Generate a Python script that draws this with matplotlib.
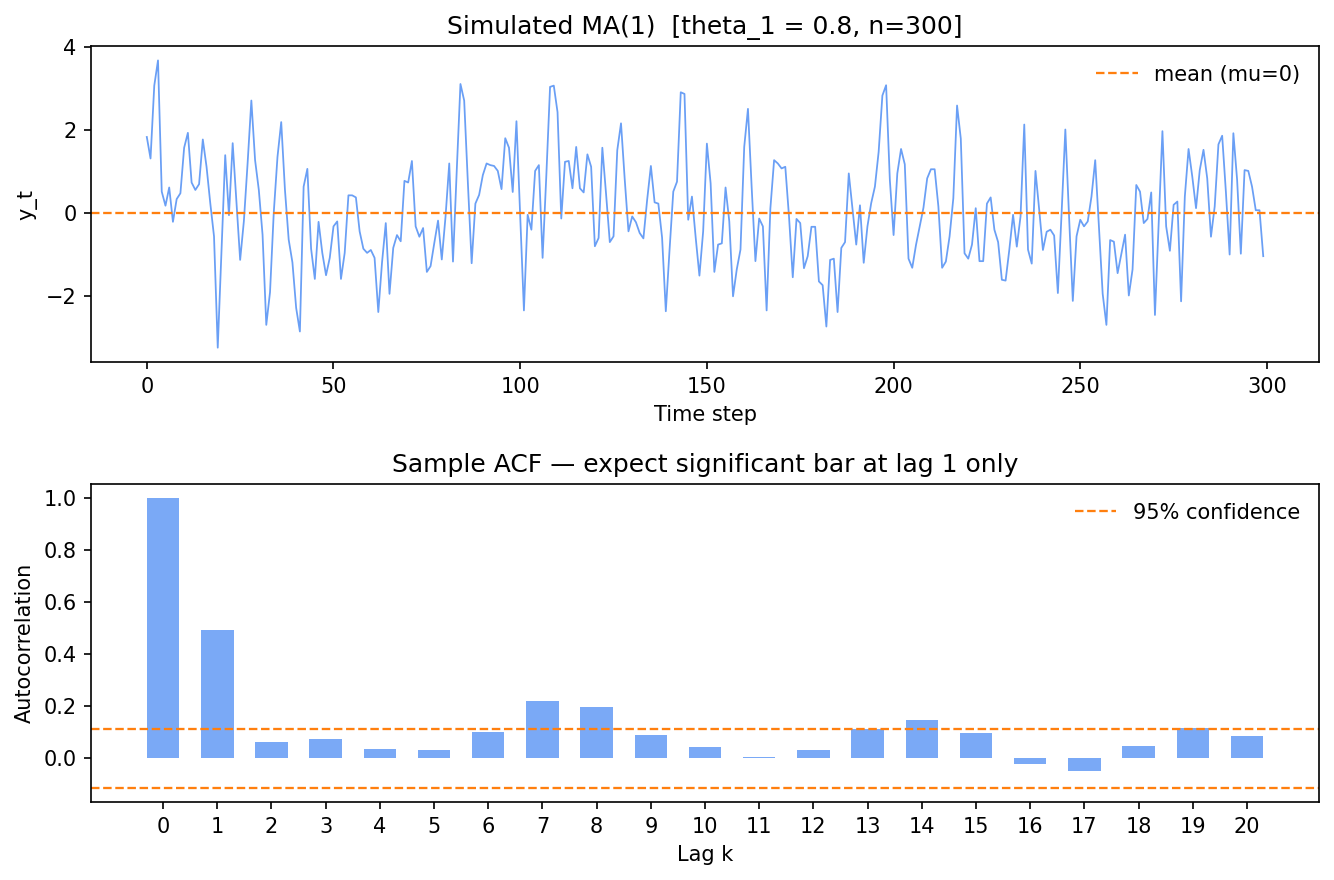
import matplotlib
matplotlib.use("Agg")
import matplotlib.pyplot as plt
from matplotlib.ticker import MultipleLocator
import numpy as np

# simulated MA(1) series
y_vals = [
    1.83, 1.31, 3.07, 3.68, 0.51, 0.17, 0.61, -0.22, 0.33, 0.47,
    1.57, 1.93, 0.73, 0.55, 0.69, 1.77, 1.11, 0.23, -0.57, -3.26,
    -0.93, 1.39, -0.06, 1.68, 0.27, -1.14, -0.2, 1.2, 2.71, 1.27,
    0.55, -0.53, -2.71, -1.92, 0.0, 1.35, 2.19, 0.55, -0.65, -1.2,
    -2.3, -2.87, 0.63, 1.06, -0.87, -1.6, -0.22, -0.97, -1.51, -1.09,
    -0.33, -0.21, -1.6, -0.97, 0.42, 0.42, 0.37, -0.45, -0.87, -0.97,
    -0.9, -1.09, -2.4, -1.2, -0.25, -1.96, -0.85, -0.54, -0.69, 0.77,
    0.73, 1.25, -0.33, -0.58, -0.37, -1.43, -1.29, -0.73, -0.19, -1.13,
    -0.1, 1.19, -1.18, 1.0, 3.11, 2.71, 0.7, -1.22, 0.22, 0.43,
    0.91, 1.19, 1.15, 1.13, 1.01, 0.57, 1.8, 1.57, 0.5, 2.21,
    -0.07, -2.36, -0.05, -0.41, 1.01, 1.15, -1.09, 0.9, 3.04, 3.07,
    2.43, -0.14, 1.23, 1.25, 0.59, 1.59, 0.59, 0.49, 1.41, 1.11,
    -0.81, -0.61, 1.57, 0.45, -0.71, -0.57, 1.51, 2.16, 0.8, -0.45,
    -0.09, -0.23, -0.49, -0.62, 0.31, 1.13, 0.25, 0.22, -0.6, -2.38,
    -0.9, 0.51, 0.75, 2.91, 2.87, -0.17, 0.39, -0.6, -1.52, -0.45,
    1.67, 0.71, -1.43, -0.77, -0.74, 0.61, -0.21, -2.02, -1.37, -0.89,
    1.59, 2.51, 0.6, -1.17, -0.14, -0.33, -2.36, 0.1, 1.27, 1.19,
    1.07, 1.11, -0.1, -1.56, -0.15, -0.25, -1.34, -1.05, -0.34, -0.34,
    -1.66, -1.75, -2.75, -1.14, -1.11, -2.4, -0.85, -0.71, 0.95, 0.1,
    -0.77, 0.18, -1.21, -0.33, 0.23, 0.63, 1.47, 2.83, 3.08, 0.79,
    -0.54, 0.95, 1.54, 1.17, -1.11, -1.33, -0.78, -0.33, 0.12, 0.83,
    1.05, 1.05, 0.15, -1.33, -1.18, -0.57, 0.35, 2.59, 1.79, -0.98,
    -1.11, -0.77, 0.11, -1.17, -1.17, 0.22, 0.37, -0.41, -0.71, -1.62,
    -1.64, -0.89, -0.05, -0.82, -0.09, 2.13, -0.89, -1.23, 1.01, 0.07,
    -0.9, -0.46, -0.41, -0.55, -1.94, 0.0, 2.01, -0.1, -2.13, -0.57,
    -0.17, -0.33, -0.21, 0.39, 1.27, -0.35, -1.96, -2.71, -0.66, -0.7,
    -1.46, -1.0, -0.53, -2.0, -1.37, 0.67, 0.51, -0.25, -0.15, 0.49,
    -2.47, -0.25, 1.97, -0.33, -0.92, 0.19, 0.27, -2.14, 0.39, 1.54,
    0.87, 0.11, 1.03, 1.52, 0.83, -0.58, 0.15, 1.65, 1.86, 0.5,
    -1.01, 1.92, 0.8, -0.99, 1.03, 1.01, 0.63, 0.06, 0.06, -1.05,
]
t_vals = np.arange(len(y_vals))

# sample ACF, lags 0..20
lags = list(range(21))
acf_vals = [1.0, 0.495, 0.062, 0.073, 0.035, 0.031, 0.10, 0.22, 0.197, 0.089,
            0.042, 0.004, 0.031, 0.112, 0.147, 0.097, -0.023, -0.049, 0.046, 0.116,
            0.085]
n = 300
conf = 1.96 / np.sqrt(n)

line_col = '#6a9ff5'
bar_col = '#7aa9f6'
orange = '#ff7f0e'

fig = plt.figure(figsize=(13.34 / 1.5, 8.8 / 1.5), dpi=150)
ax1 = fig.add_axes([0.0682, 0.5886, 0.9206, 0.3591])
ax2 = fig.add_axes([0.0682, 0.0886, 0.9206, 0.3614])

# top: series
ax1.plot(t_vals, y_vals, color=line_col, lw=0.85)
ax1.axhline(0, color=orange, ls='--', lw=1.1, label='mean (mu=0)')
ax1.yaxis.set_major_locator(MultipleLocator(2))
ax1.set_title('Simulated MA(1)  [theta_1 = 0.8, n=300]')
ax1.set_xlabel('Time step')
ax1.set_ylabel('y_t')
ax1.legend(loc='upper right', frameon=False)

# bottom: ACF
ax2.bar(lags, acf_vals, width=0.6, color=bar_col)
ax2.axhline(conf, color=orange, ls='--', lw=1.1, label='95% confidence')
ax2.axhline(-conf, color=orange, ls='--', lw=1.1)
ax2.set_xticks(lags)
ax2.set_title('Sample ACF \u2014 expect significant bar at lag 1 only')
ax2.set_xlabel('Lag k')
ax2.set_ylabel('Autocorrelation')
ax2.legend(loc='upper right', frameon=False)

fig.savefig('out.png', dpi=150)
